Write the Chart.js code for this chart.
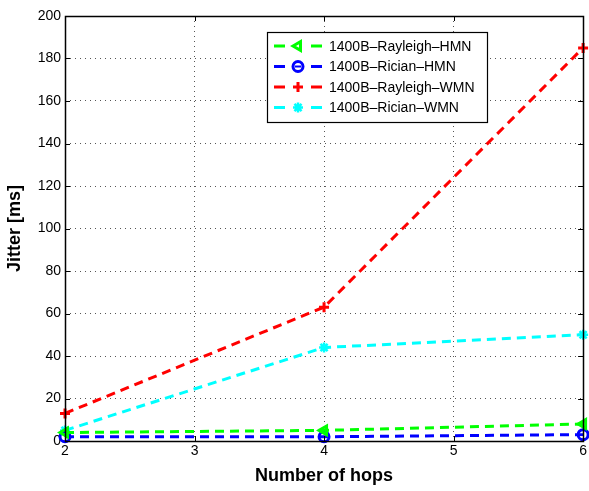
<!DOCTYPE html>
<html>
<head>
<meta charset="UTF-8">
<script src="https://cdn.jsdelivr.net/npm/chart.js"></script>
<style>
  html, body { margin: 0; padding: 0; background: #fff; }
  #wrap { width: 589px; height: 491px; }
</style>
</head>
<body>
<div id="wrap"><canvas id="c" width="589" height="491"></canvas></div>
<script>
// data
const hops = [2, 4, 6];
const rayleighHMN = [4, 5, 8];
const ricianHMN = [2, 2, 3];
const rayleighWMN = [13, 63, 185];
const ricianWMN = [5, 44, 50];
const seriesLabels = ['1400B–Rayleigh–HMN', '1400B–Rician–HMN', '1400B–Rayleigh–WMN', '1400B–Rician–WMN'];

const FONT = '"Liberation Sans", Arial, Helvetica, sans-serif';

function ds(label, values, color, style, rot, r, bw) {
  return {
    label,
    data: hops.map((h, i) => ({ x: h, y: values[i] })),
    borderColor: color,
    backgroundColor: 'rgba(0,0,0,0)',
    borderWidth: 3,
    borderDash: [9, 6],
    pointStyle: style,
    pointRotation: rot || 0,
    pointRadius: r,
    pointBorderWidth: bw,
    pointBorderColor: color,
    pointBackgroundColor: 'rgba(0,0,0,0)',
    tension: 0,
    clip: false
  };
}

const datasets = [
  ds(seriesLabels[0], rayleighHMN, '#00ff00', 'triangle', -90, 5, 3),
  ds(seriesLabels[1], ricianHMN, '#0000ff', 'circle', 0, 5, 3),
  ds(seriesLabels[2], rayleighWMN, '#ff0000', 'cross', 0, 5, 3),
  ds(seriesLabels[3], ricianWMN, '#00ffff', 'star', 0, 5, 2.5)
];

// box, inward ticks and legend drawn like the matlab figure
const boxPlugin = {
  id: 'box',
  afterDatasetsDraw(chart) {
    const { ctx, chartArea: a, scales } = chart;
    ctx.save();
    ctx.strokeStyle = '#000';
    ctx.lineWidth = 1;
    ctx.beginPath();
    scales.x.ticks.forEach(t => {
      const px = Math.round(scales.x.getPixelForValue(t.value)) + 0.5;
      ctx.moveTo(px, a.bottom); ctx.lineTo(px, a.bottom - 5);
      ctx.moveTo(px, a.top); ctx.lineTo(px, a.top + 5);
    });
    scales.y.ticks.forEach(t => {
      const py = Math.round(scales.y.getPixelForValue(t.value)) + 0.5;
      ctx.moveTo(a.left, py); ctx.lineTo(a.left + 5, py);
      ctx.moveTo(a.right, py); ctx.lineTo(a.right - 5, py);
    });
    ctx.stroke();
    ctx.lineWidth = 1.5;
    ctx.strokeRect(Math.round(a.left) + 0.5, Math.round(a.top) + 0.5, Math.round(a.right - a.left), Math.round(a.bottom - a.top));

    // legend
    const lx = 267, ly = 32, lw = 220, lh = 90;
    ctx.fillStyle = '#fff';
    ctx.fillRect(lx, ly, lw, lh);
    ctx.lineWidth = 1.2;
    ctx.strokeRect(lx + 0.5, ly + 0.5, lw, lh);
    chart.data.datasets.forEach((d, i) => {
      const y = ly + 14 + i * 20.5;
      ctx.strokeStyle = d.borderColor;
      ctx.lineWidth = 3;
      ctx.beginPath();
      ctx.moveTo(274, y); ctx.lineTo(285, y);
      ctx.moveTo(311, y); ctx.lineTo(322, y);
      ctx.stroke();
      if (Chart.helpers && Chart.helpers.drawPoint) {
        ctx.fillStyle = 'rgba(0,0,0,0)';
        ctx.lineWidth = d.pointBorderWidth;
        Chart.helpers.drawPoint(ctx, { pointStyle: d.pointStyle, rotation: d.pointRotation, radius: d.pointRadius, borderWidth: d.pointBorderWidth }, 298, y);
      }
      if (d.pointStyle === 'circle') {
        ctx.lineWidth = 2;
        ctx.beginPath();
        ctx.moveTo(295, y); ctx.lineTo(301, y);
        ctx.stroke();
      }
      ctx.fillStyle = '#000';
      ctx.font = '14px ' + FONT;
      ctx.textBaseline = 'middle';
      ctx.fillText(d.label, 329, y + 1);
    });
    ctx.restore();
  }
};

new Chart(document.getElementById('c'), {
  type: 'line',
  data: { datasets },
  options: {
    responsive: false,
    animation: false,
    layout: { autoPadding: false, padding: { top: 16, right: 1, left: 0, bottom: 0 } },
    plugins: { legend: { display: false }, tooltip: { enabled: false } },
    scales: {
      x: {
        type: 'linear',
        min: 2, max: 6,
        afterFit: s => { s.height = 50; },
        ticks: { stepSize: 1, color: '#000', font: { family: FONT, size: 14 }, padding: 2, maxRotation: 0 },
        grid: { color: '#555', lineWidth: 1, tickLength: 0 },
        border: { display: false, dash: [1, 4] },
        title: { display: true, text: 'Number of hops', color: '#000', font: { family: FONT, size: 18, weight: 'bold' }, padding: { top: 4 } }
      },
      y: {
        min: 0, max: 200,
        afterFit: s => { s.width = 65; },
        ticks: { stepSize: 20, color: '#000', font: { family: FONT, size: 14 }, padding: 4 },
        grid: { color: '#555', lineWidth: 1, tickLength: 0 },
        border: { display: false, dash: [1, 4] },
        title: { display: true, text: 'Jitter [ms]', color: '#000', font: { family: FONT, size: 18, weight: 'bold' }, padding: { bottom: 6 } }
      }
    }
  },
  plugins: [boxPlugin]
});
</script>
</body>
</html>
